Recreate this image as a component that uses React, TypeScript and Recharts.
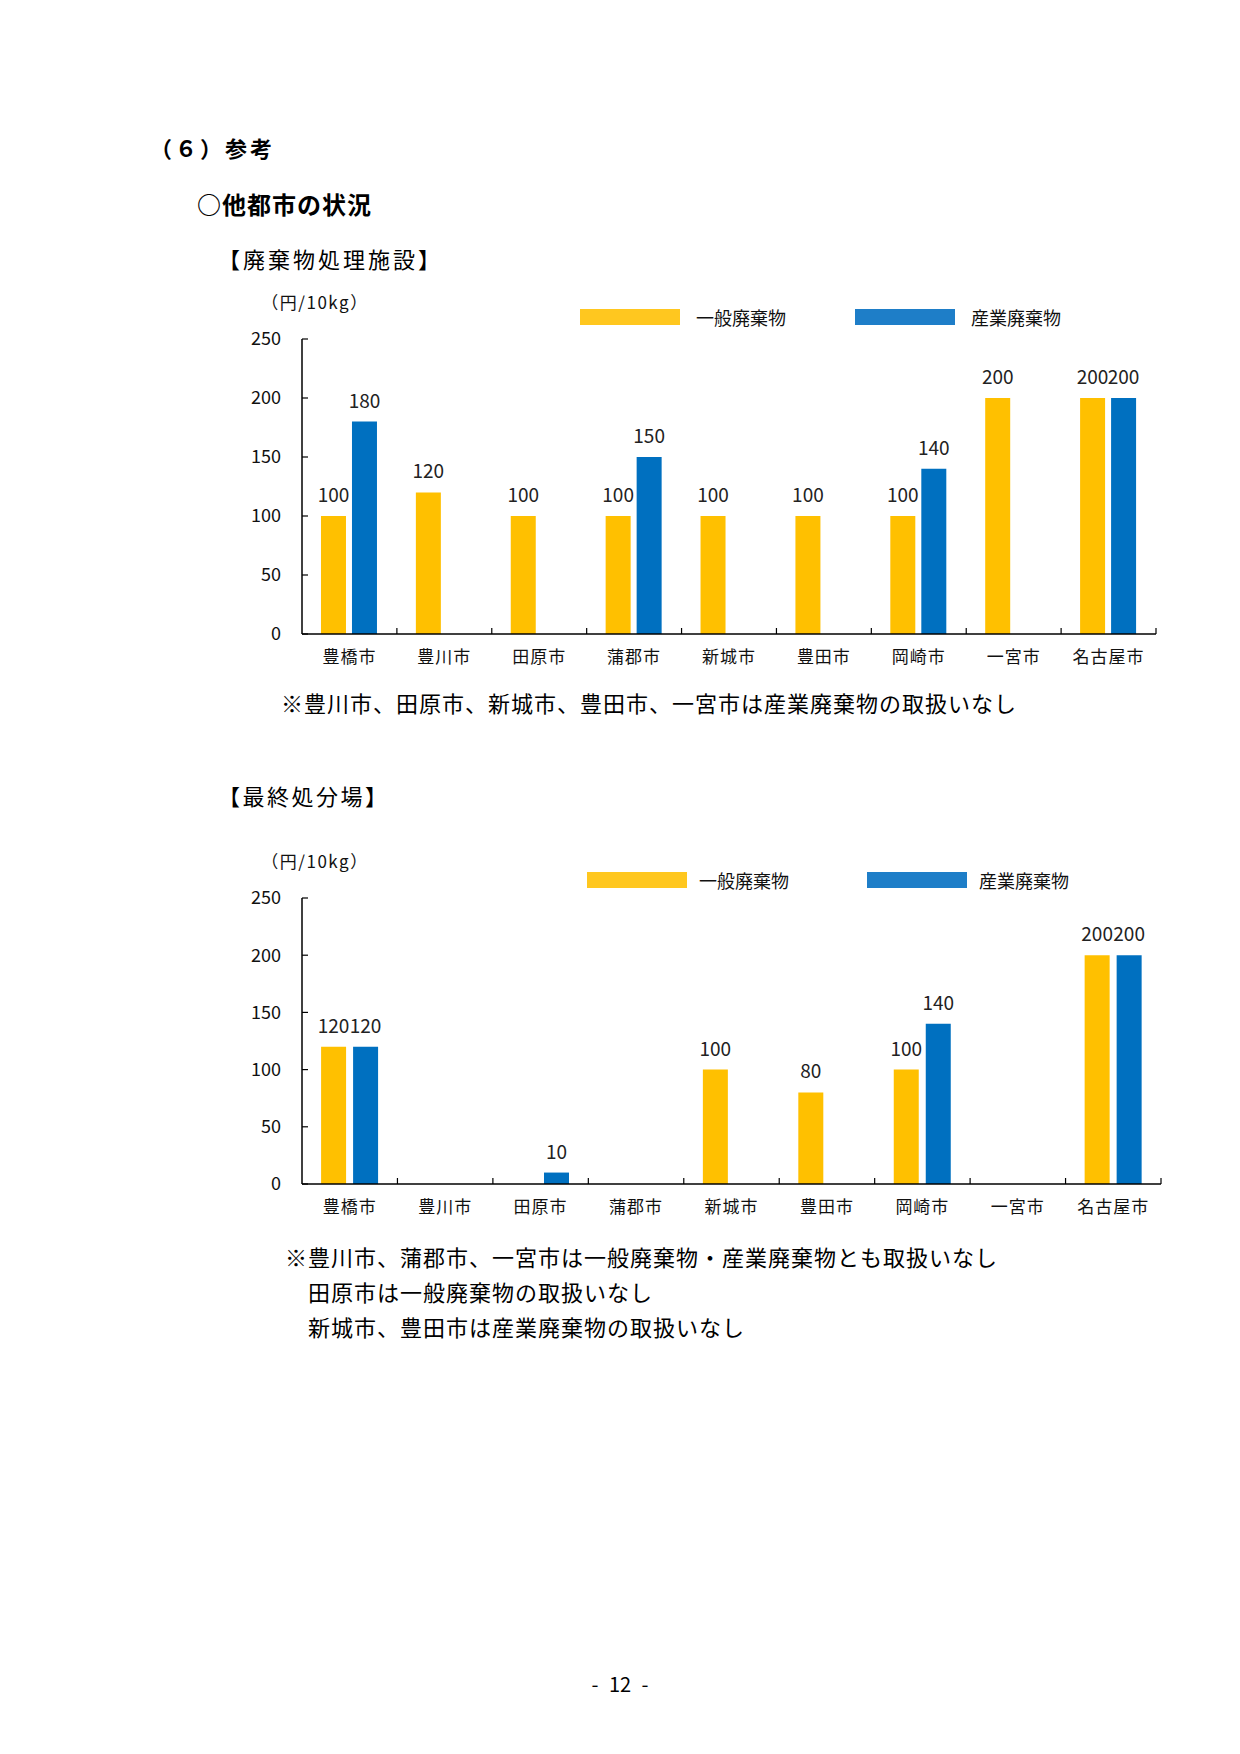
import React from "react";
import { BarChart, Bar, XAxis, YAxis, LabelList, Legend } from "recharts";

const FONT = '"Noto Sans CJK JP", "Noto Sans", sans-serif';

// categories and values (円/10kg)
const CITIES = ["豊橋市", "豊川市", "田原市", "蒲郡市", "新城市", "豊田市", "岡崎市", "一宮市", "名古屋市"];
const SERIES_NAMES = ["一般廃棄物", "産業廃棄物"];
const FACILITY_GENERAL = [100, 120, 100, 100, 100, 100, 100, 200, 200];
const FACILITY_INDUSTRIAL = [180, null, null, 150, null, null, 140, null, 200];
const LANDFILL_GENERAL = [120, null, null, null, 100, 80, 100, null, 200];
const LANDFILL_INDUSTRIAL = [120, null, 10, null, null, null, 140, null, 200];
const Y_TICKS = [0, 50, 100, 150, 200, 250];

const BAR_COLORS = { general: "#FFC000", industrial: "#0070C0" };
const LEGEND_COLORS = { general: "#FFC71F", industrial: "#1E7EC8" };

const Y_AXIS_WIDTH = 60;
const X_TICK_MARGIN = 17;

type ChartProps = {
  general: (number | null)[];
  industrial: (number | null)[];
  width: number;
  height: number;
  margin: { top: number; right: number; bottom: number; left: number };
  legendTop: number;
  legendLeft: number;
  legendItemWidth: number;
  legendGap: number;
  barGap: number;
};

function makeLegend(itemWidth: number, gap: number) {
  return (props: any) => (
    <div style={{ display: "flex", fontFamily: FONT }}>
      {(props.payload || []).map((entry: any) => (
        <div
          key={entry.dataKey}
          style={{ display: "flex", alignItems: "center", width: itemWidth, lineHeight: "24px" }}
        >
          <span
            style={{
              display: "inline-block",
              width: 100,
              height: 16,
              background: LEGEND_COLORS[entry.dataKey as "general" | "industrial"],
            }}
          />
          <span style={{ marginLeft: gap, fontSize: 18, color: "#111" }}>{entry.value}</span>
        </div>
      ))}
    </div>
  );
}

// category label plus the small inward tick at the right edge of each category (Excel style)
function makeCityTick(halfBand: number) {
  return (props: any) => {
    const { x, y, payload } = props;
    const axisY = y - X_TICK_MARGIN;
    return (
      <g>
        <line
          x1={x + halfBand}
          x2={x + halfBand}
          y1={axisY}
          y2={axisY - 6}
          stroke="#000"
          strokeWidth={1.2}
        />
        <text
          x={x}
          y={y}
          dy="0.71em"
          textAnchor="middle"
          fontSize={17}
          fill="#111"
          fontFamily={FONT}
          letterSpacing={1}
        >
          {payload.value}
        </text>
      </g>
    );
  };
}

function PriceChart({
  general,
  industrial,
  width,
  height,
  margin,
  legendTop,
  legendLeft,
  legendItemWidth,
  legendGap,
  barGap,
}: ChartProps) {
  const data = CITIES.map((city, i) => ({
    city,
    general: general[i],
    industrial: industrial[i],
  }));
  const plotWidth = width - margin.left - margin.right - Y_AXIS_WIDTH;
  const halfBand = plotWidth / CITIES.length / 2;

  return (
    <BarChart
      width={width}
      height={height}
      data={data}
      margin={margin}
      barCategoryGap="20%"
      barGap={barGap}
    >
      <XAxis
        dataKey="city"
        height={40}
        interval={0}
        tickLine={false}
        axisLine={{ stroke: "#000", strokeWidth: 1.5 }}
        tickSize={0}
        tickMargin={X_TICK_MARGIN}
        tick={makeCityTick(halfBand)}
      />
      <YAxis
        domain={[0, 250]}
        ticks={Y_TICKS}
        width={Y_AXIS_WIDTH}
        tickSize={-6}
        tickMargin={27}
        tickLine={{ stroke: "#000", strokeWidth: 1.2 }}
        axisLine={{ stroke: "#000", strokeWidth: 1.5 }}
        tick={{ fontSize: 18, fill: "#111", fontFamily: FONT }}
        label={{
          value: "（円/10kg）",
          position: "top",
          offset: 30,
          dx: 43,
          fontSize: 17,
          fill: "#111",
          fontFamily: FONT,
          letterSpacing: 1.5,
        }}
      />
      <Legend
        layout="horizontal"
        verticalAlign="middle"
        align="center"
        wrapperStyle={{ top: legendTop, left: legendLeft, width: "auto" }}
        content={makeLegend(legendItemWidth, legendGap)}
      />
      <Bar dataKey="general" name={SERIES_NAMES[0]} fill={BAR_COLORS.general} isAnimationActive={false}>
        <LabelList
          dataKey="general"
          position="top"
          offset={14}
          fontSize={19}
          fill="#222"
          fontFamily={FONT}
        />
      </Bar>
      <Bar dataKey="industrial" name={SERIES_NAMES[1]} fill={BAR_COLORS.industrial} isAnimationActive={false}>
        <LabelList
          dataKey="industrial"
          position="top"
          offset={14}
          fontSize={19}
          fill="#222"
          fontFamily={FONT}
        />
      </Bar>
    </BarChart>
  );
}

const textStyle = (
  left: number,
  top: number,
  fontSize: number,
  weight = 400,
  spacing = 0
): React.CSSProperties => ({
  position: "absolute",
  left,
  top,
  fontSize,
  fontWeight: weight,
  letterSpacing: spacing,
  lineHeight: `${fontSize + 2}px`,
  whiteSpace: "nowrap",
  color: "#000",
});

export default function App() {
  return (
    <div
      style={{
        position: "absolute",
        left: 0,
        top: 0,
        width: 1240,
        height: 1754,
        background: "#fff",
        fontFamily: FONT,
      }}
    >
      <div style={textStyle(150, 135, 22, 700, 3)}>（６）参考</div>
      <div style={textStyle(197, 191, 24, 700, 1)}>○他都市の状況</div>
      <div style={textStyle(218, 246, 22, 400, 3)}>【廃棄物処理施設】</div>

      <div style={{ position: "absolute", left: 220, top: 280 }}>
        <PriceChart
          general={FACILITY_GENERAL}
          industrial={FACILITY_INDUSTRIAL}
          width={960}
          height={400}
          margin={{ top: 59, right: 24, bottom: 6, left: 22 }}
          legendTop={25}
          legendLeft={360}
          legendItemWidth={275}
          legendGap={16}
          barGap={6}
        />
      </div>

      <div style={textStyle(281, 690, 22, 400, 1)}>
        ※豊川市、田原市、新城市、豊田市、一宮市は産業廃棄物の取扱いなし
      </div>

      <div style={textStyle(218, 783, 22, 400, 2.5)}>【最終処分場】</div>

      <div style={{ position: "absolute", left: 220, top: 780 }}>
        <PriceChart
          general={LANDFILL_GENERAL}
          industrial={LANDFILL_INDUSTRIAL}
          width={960}
          height={460}
          margin={{ top: 118, right: 19, bottom: 16, left: 22 }}
          legendTop={88}
          legendLeft={367}
          legendItemWidth={280}
          legendGap={12}
          barGap={7}
        />
      </div>

      <div style={textStyle(285, 1244, 22, 400, 1)}>
        ※豊川市、蒲郡市、一宮市は一般廃棄物・産業廃棄物とも取扱いなし
      </div>
      <div style={textStyle(308, 1279, 22, 400, 1)}>田原市は一般廃棄物の取扱いなし</div>
      <div style={textStyle(308, 1314, 22, 400, 1)}>新城市、豊田市は産業廃棄物の取扱いなし</div>

      <div
        style={{
          position: "absolute",
          left: 0,
          top: 1672,
          width: 1240,
          textAlign: "center",
          fontSize: 20,
          lineHeight: "24px",
          color: "#000",
          wordSpacing: 6,
        }}
      >
        - 12 -
      </div>
    </div>
  );
}
